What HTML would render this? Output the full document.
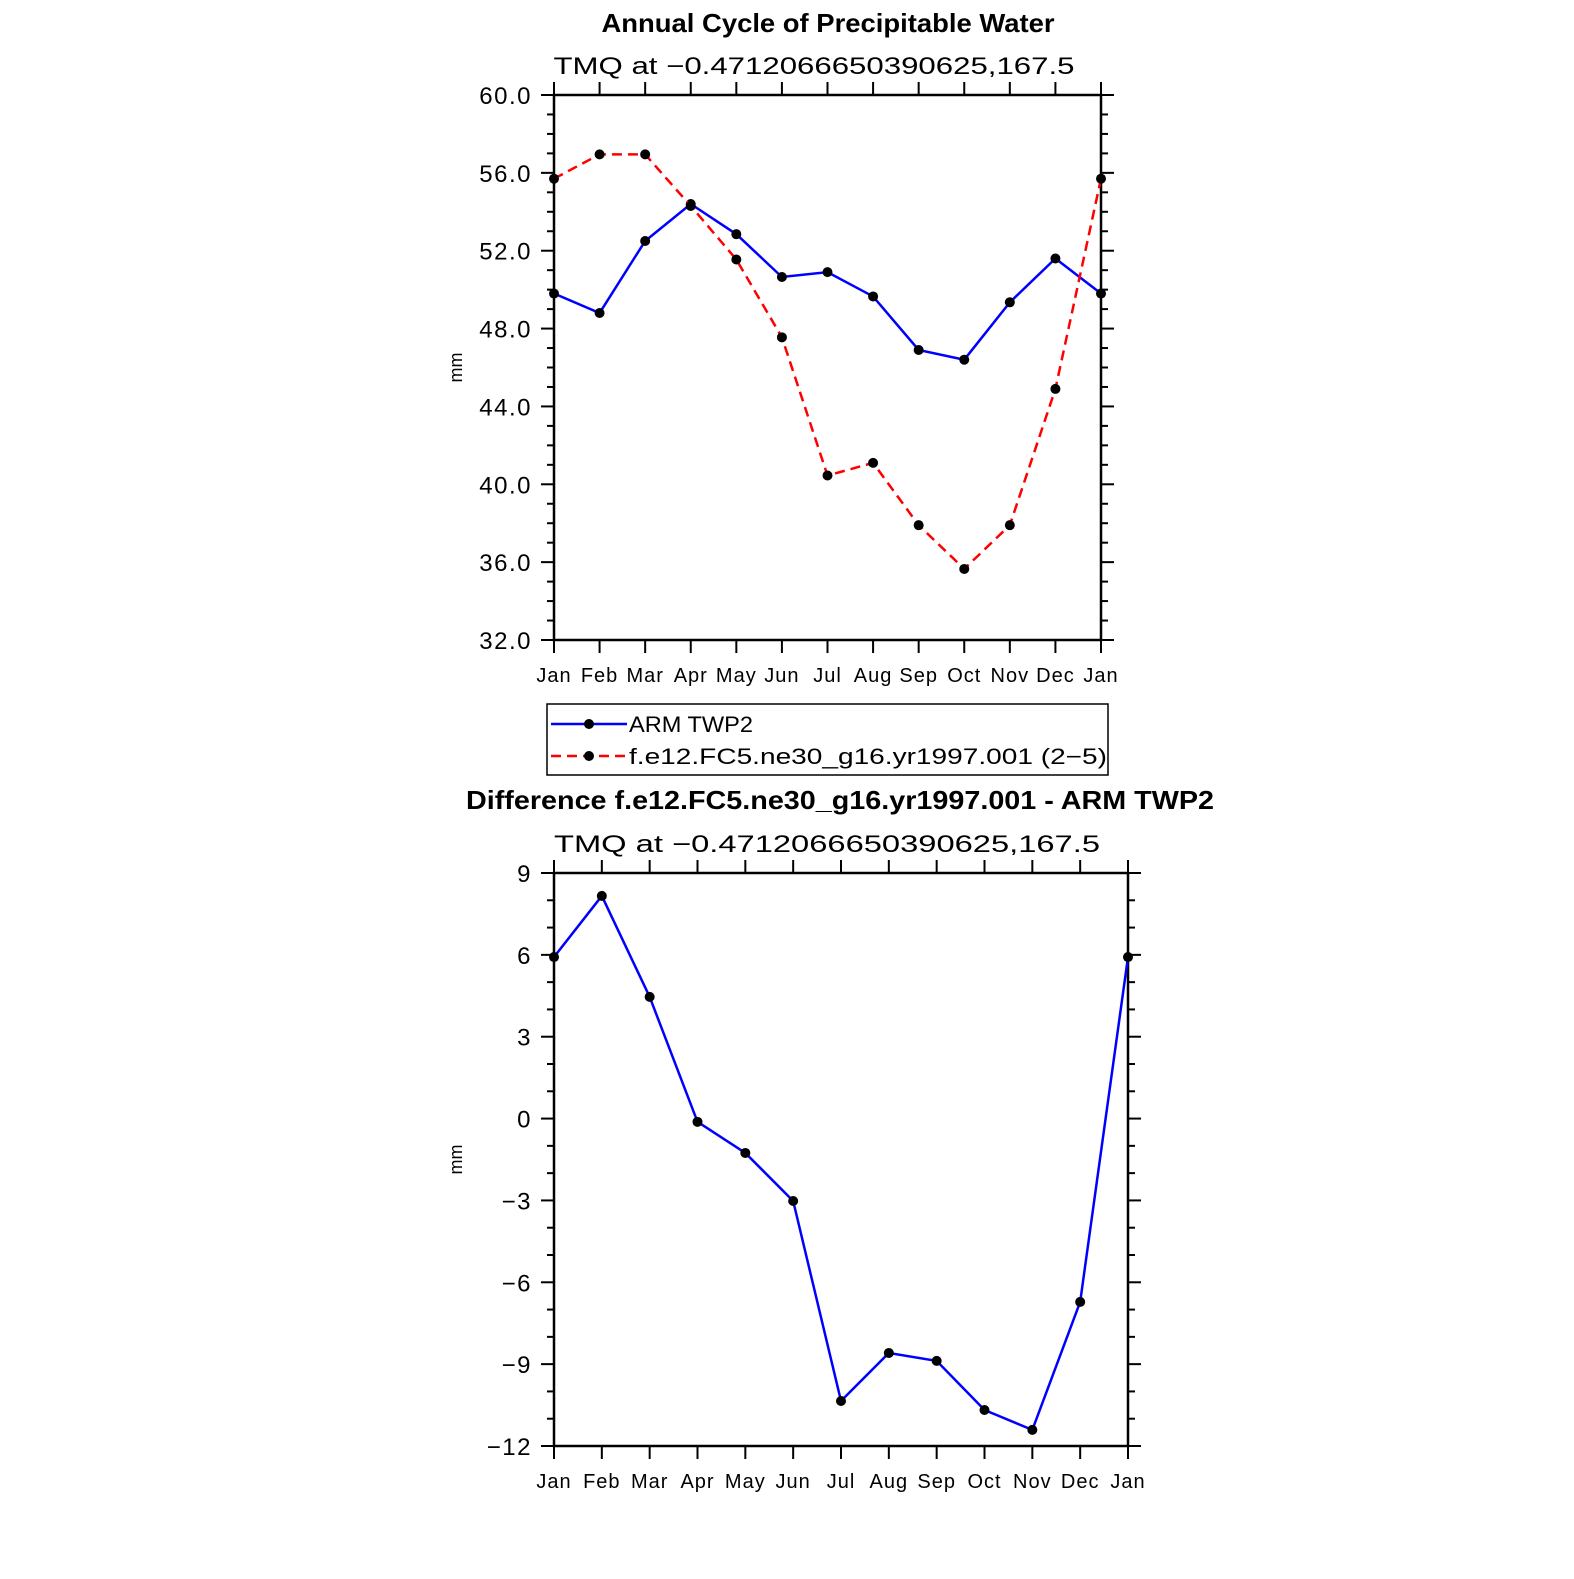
<!DOCTYPE html>
<html><head><meta charset="utf-8"><style>
body{margin:0;background:#fff}
svg text{font-family:"Liberation Sans",sans-serif}
</style></head><body>
<svg id="c" width="1574" height="1574" xmlns="http://www.w3.org/2000/svg"></svg>
<script>
const months=["Jan","Feb","Mar","Apr","May","Jun","Jul","Aug","Sep","Oct","Nov","Dec","Jan"];
const armTwp2=[49.8,48.8,52.5,54.4,52.85,50.65,50.9,49.65,46.9,46.4,49.35,51.6];
const modelRun=[55.7,56.95,56.95,54.3,51.55,47.55,40.45,41.1,37.9,35.65,37.9,44.9];
const diffVals=[5.92,8.16,4.46,-0.12,-1.26,-3.02,-10.35,-8.59,-8.88,-10.68,-11.41,-6.72];
const topTicks=[32,36,40,44,48,52,56,60];
const topTickLabels=["32.0","36.0","40.0","44.0","48.0","52.0","56.0","60.0"];
const botTicks=[-12,-9,-6,-3,0,3,6,9];
const botTickLabels=["\u221212","\u22129","\u22126","\u22123","0","3","6","9"];

const svg=document.getElementById('c');
const NS="http://www.w3.org/2000/svg";
function el(tag,attrs,parent,name){const e=document.createElementNS(NS,tag);for(const k in attrs)e.setAttribute(k,attrs[k]);(parent||svg).appendChild(e);


return e;}
function txt(x,y,s,size,anchor,name,weight,len,ls){const a={x:x,y:y,'font-size':size,'text-anchor':anchor||'middle','font-weight':weight||'normal',fill:'#000'};
if(len){a.textLength=len;a.lengthAdjust='spacingAndGlyphs';}
if(ls)a['letter-spacing']=ls;
const t=el('text',a,svg,name);t.textContent=s;return t;}

function panel(o){
  const g=el('g',{},svg,o.name);
  const X=i=>o.x0+(o.x1-o.x0)*i/12;
  const Y=v=>o.y1-(v-o.ymin)/(o.ymax-o.ymin)*(o.y1-o.y0);
  el('rect',{x:o.x0,y:o.y0,width:o.x1-o.x0,height:o.y1-o.y0,fill:'none',stroke:'#000','stroke-width':2.5},g,'plot-frame');
  for(let v=o.ymin;v<=o.ymax;v+=1){
    const maj=o.yt.includes(v);const L=maj?13:7;
    el('line',{x1:o.x0-L,x2:o.x0,y1:Y(v),y2:Y(v),stroke:'#000','stroke-width':2},g,'y-tick-left');
    el('line',{x1:o.x1,x2:o.x1+L,y1:Y(v),y2:Y(v),stroke:'#000','stroke-width':2},g,'y-tick-right');
  }
  o.yt.forEach((v,i)=>txt(o.x0-22,Y(v)+9,o.yl[i],24,'end','y-tick-label',null,null,1.5));
  months.forEach((m,i)=>{
    el('line',{x1:X(i),x2:X(i),y1:o.y1,y2:o.y1+13,stroke:'#000','stroke-width':2},g,'x-tick-bottom');
    el('line',{x1:X(i),x2:X(i),y1:o.y0-13,y2:o.y0,stroke:'#000','stroke-width':2},g,'x-tick-top');
    txt(X(i),o.y1+42,m,20,'middle','x-tick-label',null,null,1);
  });
  o.series.forEach(s=>{
    const vals=s.v.concat([s.v[0]]);
    el('polyline',{points:vals.map((v,i)=>X(i)+','+Y(v)).join(' '),fill:'none',stroke:s.c,'stroke-width':2.5,'stroke-dasharray':s.dash||''},g,s.name+'-line');
    vals.forEach((v,i)=>el('circle',{cx:X(i),cy:Y(v),r:5,fill:'#000'},g,s.name+'-point'));
  });
  const t=txt(462,(o.y0+o.y1)/2,'mm',18,'middle','y-axis-title');
  t.setAttribute('transform','rotate(-90 462 '+((o.y0+o.y1)/2)+')');
}

txt(828,32,'Annual Cycle of Precipitable Water',26,'middle','top-chart-title','bold',453);
txt(814,74,'TMQ  at  \u22120.4712066650390625,167.5',24,'middle','top-chart-subtitle',null,521);
panel({name:'top-panel',x0:554,x1:1101,y0:95,y1:640,ymin:32,ymax:60,yt:topTicks,yl:topTickLabels,
 series:[{name:'arm-twp2',v:armTwp2,c:'#0000ff'},{name:'model-run',v:modelRun,c:'#ff0000',dash:'10,6'}]});

const lg=el('g',{},svg,'legend');
el('rect',{x:547,y:704,width:561,height:71,fill:'#fff',stroke:'#000','stroke-width':1.5},lg,'legend-box');
el('line',{x1:551,x2:627,y1:724,y2:724,stroke:'#0000ff','stroke-width':2.5},lg,'legend-line-arm');
el('circle',{cx:589,cy:724,r:5,fill:'#000'},lg,'legend-marker-arm');
txt(629,732,'ARM  TWP2',22,'start','legend-label-arm',null,124);
el('line',{x1:551,x2:627,y1:756,y2:756,stroke:'#ff0000','stroke-width':2.5,'stroke-dasharray':'10,6'},lg,'legend-line-model');
el('circle',{cx:589,cy:756,r:5,fill:'#000'},lg,'legend-marker-model');
txt(629,764,'f.e12.FC5.ne30_g16.yr1997.001  (2\u22125)',22,'start','legend-label-model',null,478);

txt(840,809,'Difference f.e12.FC5.ne30_g16.yr1997.001 - ARM TWP2',26,'middle','bottom-chart-title','bold',748);
txt(827,852,'TMQ  at  \u22120.4712066650390625,167.5',24,'middle','bottom-chart-subtitle',null,546);
panel({name:'bottom-panel',x0:554,x1:1128,y0:873,y1:1446,ymin:-12,ymax:9,yt:botTicks,yl:botTickLabels,
 series:[{name:'difference',v:diffVals,c:'#0000ff'}]});
</script>
</body></html>
